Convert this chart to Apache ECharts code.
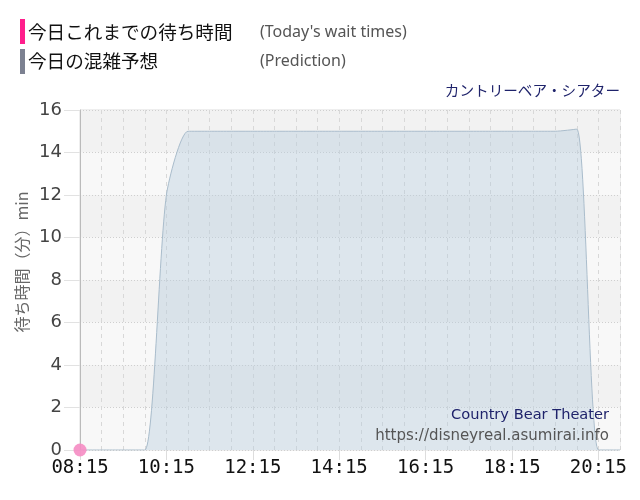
<!doctype html>
<html>
<head>
    <meta charset="utf-8" />
    <title>カントリーベア・シアター 待ち時間</title>
    <script src="https://cdn.jsdelivr.net/npm/echarts@6/dist/echarts.min.js"></script>
    <style>
        html, body { margin: 0; padding: 0; background: #fff; }
        #main { width: 640px; height: 500px; }
    </style>
</head>
<body>
<div id="main"></div>
<script type="text/javascript">
    // 今日の混雑予想 (30分ごと)
    var predTimes = ['08:15', '08:45', '09:15', '09:45', '10:15', '10:45', '11:15', '11:45',
        '12:15', '12:45', '13:15', '13:45', '14:15', '14:45', '15:15', '15:45',
        '16:15', '16:45', '17:15', '17:45', '18:15', '18:45', '19:15', '19:45',
        '20:15', '20:45'];
    var predValues = [0, 0, 0, 0, 12, 15, 15, 15,
        15, 15, 15, 15, 15, 15, 15, 15,
        15, 15, 15, 15, 15, 15, 15, 15.1,
        0, 0];

    // 今日これまでの待ち時間
    var actualTimes = ['08:15'];
    var actualValues = [0];

    var tickLabels = ['08:15', '10:15', '12:15', '14:15', '16:15', '18:15', '20:15'];
    var yTicks = [0, 2, 4, 6, 8, 10, 12, 14, 16];

    var startTime = '08:15';
    var endTime = '20:45';

    function toMin(t) {
        var p = t.split(':');
        return parseInt(p[0], 10) * 60 + parseInt(p[1], 10);
    }
    function fromMin(m) {
        var h = Math.floor(m / 60), mm = m % 60;
        return (h < 10 ? '0' : '') + h + ':' + (mm < 10 ? '0' : '') + mm;
    }
    var t0 = toMin(startTime), t1 = toMin(endTime);

    var predData = predTimes.map(function (t, i) { return [toMin(t) - t0, predValues[i]]; });
    var actualData = actualTimes.map(function (t, i) { return [toMin(t) - t0, actualValues[i]]; });
    var tickVals = tickLabels.map(function (t) { return toMin(t) - t0; });

    var myChart = echarts.init(document.getElementById('main'));

    var option = {
        animation: false,
        backgroundColor: '#fff',
        grid: {
            left: 80, right: 20, top: 110, bottom: 50,
            show: true, borderColor: '#ddd', borderWidth: 1
        },
        graphic: [
            { type: 'rect', shape: { x: 20, y: 19, width: 5, height: 25 }, style: { fill: '#ff1e8c' } },
            { type: 'rect', shape: { x: 20, y: 49, width: 5, height: 25 }, style: { fill: '#7c8191' } },
            { type: 'text', style: { x: 28, y: 32, text: '今日これまでの待ち時間', fill: '#111',
                font: '18.6px "Noto Sans CJK JP"', textVerticalAlign: 'middle' } },
            { type: 'text', style: { x: 260, y: 32, text: "(Today's wait times)", fill: '#555',
                font: '16px "Noto Sans"', textVerticalAlign: 'middle' } },
            { type: 'text', style: { x: 28, y: 61, text: '今日の混雑予想', fill: '#111',
                font: '18.6px "Noto Sans CJK JP"', textVerticalAlign: 'middle' } },
            { type: 'text', style: { x: 260, y: 61, text: '(Prediction)', fill: '#555',
                font: '16px "Noto Sans"', textVerticalAlign: 'middle' } },
            { type: 'text', style: { x: 620, y: 90, text: 'カントリーベア・シアター', fill: '#1f236b',
                font: '14.6px "Noto Sans CJK JP"', textAlign: 'right', textVerticalAlign: 'middle' } },
            { type: 'text', x: 22, y: 262, rotation: Math.PI / 2,
                style: { x: 0, y: 0, text: '待ち時間（分）min', fill: '#666',
                    font: '16px "Noto Sans CJK JP"', textAlign: 'center', textVerticalAlign: 'middle' } },
            { type: 'text', z: 100, style: { x: 609, y: 415, text: 'Country Bear Theater', fill: '#1f236b',
                font: '14.6px "DejaVu Sans"', textAlign: 'right', textVerticalAlign: 'middle' } },
            { type: 'text', z: 100, style: { x: 609, y: 436, text: 'https://disneyreal.asumirai.info', fill: '#555',
                font: '15px "DejaVu Sans"', textAlign: 'right', textVerticalAlign: 'middle' } }
        ],
        xAxis: [{
            type: 'value',
            min: 0,
            max: t1 - t0,
            axisLine: { show: false },
            axisTick: { show: true, length: 10, lineStyle: { color: '#ddd' }, customValues: tickVals },
            axisLabel: {
                customValues: tickVals,
                formatter: function (v) { return fromMin(v + t0); },
                fontFamily: 'DejaVu Sans Mono', fontSize: 19, color: '#111', margin: 9
            },
            splitLine: { show: false }
        }, {
            type: 'value',
            min: 0,
            max: t1 - t0,
            interval: 30,
            position: 'bottom',
            axisLine: { show: false },
            axisTick: { show: false },
            axisLabel: { show: false },
            splitLine: { show: true, lineStyle: { color: '#d8d8d8', type: [4, 4] } }
        }],
        yAxis: {
            type: 'value',
            min: yTicks[0],
            max: yTicks[yTicks.length - 1],
            interval: yTicks[1] - yTicks[0],
            axisLine: { show: true, lineStyle: { color: '#bbb' } },
            axisTick: { show: true, length: 16, lineStyle: { color: '#e2e2e2' } },
            axisLabel: { fontFamily: 'DejaVu Sans', fontSize: 18, color: '#444', margin: 18 },
            splitLine: { show: true, lineStyle: { color: '#cfcfcf', type: [1, 2] } },
            splitArea: { show: true, areaStyle: { color: ['#f8f8f8', '#f2f2f2'] } }
        },
        series: [{
            name: '今日の混雑予想',
            type: 'line',
            data: predData,
            smooth: 0.22,
            showSymbol: false,
            lineStyle: { color: '#a9bccb', width: 1 },
            areaStyle: { color: 'rgba(183, 205, 222, 0.6)' },
            z: 2
        }, {
            name: '今日これまでの待ち時間',
            type: 'line',
            data: actualData,
            symbol: 'circle',
            symbolSize: 13,
            itemStyle: { color: 'rgba(245, 140, 195, 0.9)' },
            lineStyle: { color: '#ff1e8c', width: 2 },
            z: 5
        }]
    };

    myChart.setOption(option);
</script>
</body>
</html>
